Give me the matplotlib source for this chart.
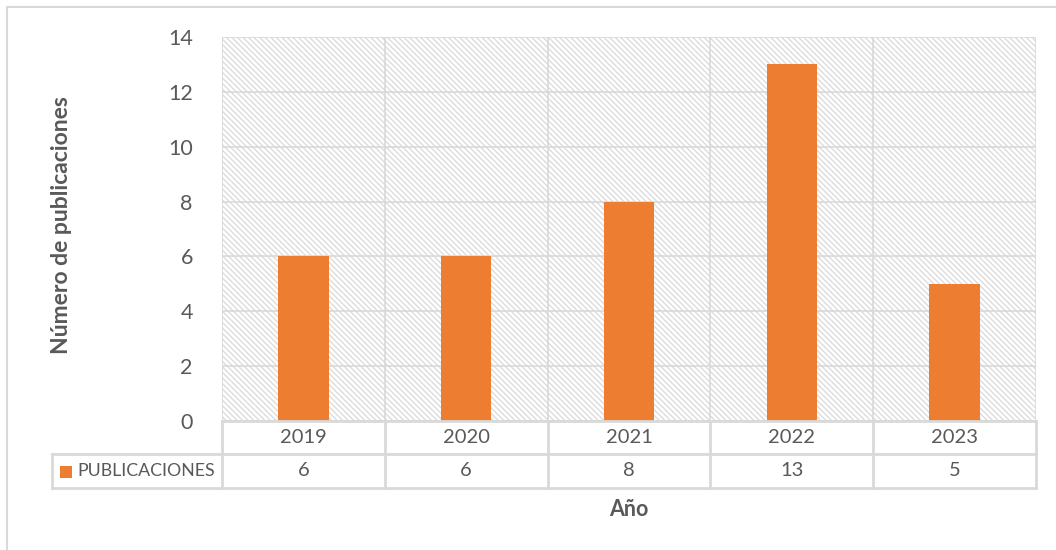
import matplotlib
matplotlib.use("Agg")
import matplotlib.pyplot as plt
from matplotlib.patches import Rectangle
from matplotlib.lines import Line2D
import matplotlib.transforms as mtransforms

years = ["2019", "2020", "2021", "2022", "2023"]
publicaciones = [6, 6, 8, 13, 5]
series_name = "PUBLICACIONES"
y_ticks = [0, 2, 4, 6, 8, 10, 12, 14]

plt.rcParams['font.family'] = ['Lato', 'DejaVu Sans']
plt.rcParams['hatch.color'] = '#d0d0d0'
plt.rcParams['hatch.linewidth'] = 0.9

W, H = 1056, 550
fig = plt.figure(figsize=(W/100, H/100), dpi=100)
txt = '#595959'
grid = '#d9d9d9'
orange = '#ED7D31'

def fx(px): return px / W
def fy(py): return 1 - py / H

L, R, T, B = 222, 1036, 37, 421
ax = fig.add_axes([fx(L), fy(B), fx(R) - fx(L), fy(T) - fy(B)])
x = list(range(len(years)))
ax.set_xlim(-0.5, len(years) - 0.5)
ax.set_ylim(0, 14)

# hatched background
ax.add_patch(Rectangle((0, 0), 1, 1, transform=ax.transAxes, facecolor='white',
                       edgecolor=grid, hatch='\\' * 6, lw=0, zorder=0))
ax.bar(x, publicaciones, width=0.31, color=orange, zorder=3)

ax.set_yticks(y_ticks)
ax.set_yticklabels([str(t) for t in y_ticks], fontsize=15.5, color=txt)
ax.tick_params(axis='y', length=0, pad=21)
ax.set_xticks([])
for yt in y_ticks:
    ax.axhline(yt, color=grid, lw=1.2, zorder=1)
for i in range(len(years) + 1):
    ax.axvline(i - 0.5, color=grid, lw=1.2, zorder=1)
for s in ax.spines.values():
    s.set_visible(False)

# data table below
row1_top, row1_bot, row2_bot = B, 454, 488
leg_left = 52
tr = mtransforms.blended_transform_factory(ax.transData, fig.transFigure)
xl = ax.transData.inverted().transform((fig.transFigure.transform((fx(leg_left), 0))[0], 0))[0]
for py, x0 in [(row1_bot, xl), (row2_bot, xl)]:
    fig.add_artist(Line2D([x0, len(years) - 0.5], [fy(py), fy(py)], transform=tr,
                          color=grid, lw=2))
fig.add_artist(Line2D([-0.5, len(years) - 0.5], [fy(row1_top), fy(row1_top)], transform=tr,
                      color=grid, lw=2))
for i in range(len(years) + 1):
    fig.add_artist(Line2D([i - 0.5, i - 0.5], [fy(row1_top), fy(row2_bot)], transform=tr,
                          color=grid, lw=2))
fig.add_artist(Line2D([xl, xl], [fy(row1_bot), fy(row2_bot)], transform=tr, color=grid, lw=2))

for i, (yr, v) in enumerate(zip(years, publicaciones)):
    fig.text(i, fy((row1_top + row1_bot) / 2), yr, transform=tr, ha='center', va='center',
             fontsize=14.5, color=txt)
    fig.text(i, fy((row1_bot + row2_bot) / 2), str(v), transform=tr, ha='center', va='center',
             fontsize=14.5, color=txt)

# legend key in table
fig.add_artist(Rectangle((fx(60), fy(478)), fx(12), fy(466) - fy(478), transform=fig.transFigure,
                         facecolor=orange, edgecolor='none'))
fig.text(fx(77), fy((row1_bot + row2_bot) / 2), series_name, ha='left', va='center',
         fontsize=12.8, color=txt)

# axis titles
fig.text(fx(62), fy(225), "Número de publicaciones", rotation=90, ha='center',
         va='center', fontsize=16.5, fontweight='bold', color=txt)
fig.text(fx((L + R) / 2), fy(510), "Año", ha='center', va='center', fontsize=15.5,
         fontweight='bold', color=txt)

# outer chart border (extends past the image on right and bottom)
fig.add_artist(Rectangle((fx(7), fy(560)), fx(1070) - fx(7), fy(7) - fy(560),
                         transform=fig.transFigure, facecolor='none', edgecolor='#d9d9d9', lw=1.5))

fig.savefig("out.png", dpi=100)
